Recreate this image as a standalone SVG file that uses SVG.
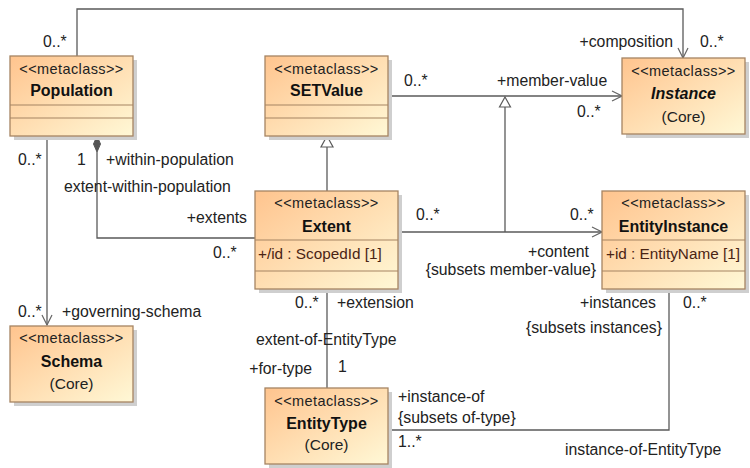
<svg xmlns="http://www.w3.org/2000/svg" width="750" height="468" viewBox="0 0 750 468">
<defs>
<linearGradient id="fill" x1="0" y1="0" x2="1" y2="1">
<stop offset="0" stop-color="#FFC48E"/>
<stop offset="1" stop-color="#FFF8D6"/>
</linearGradient>
<marker id="open" viewBox="0 0 12 12" refX="11" refY="6" markerWidth="12" markerHeight="12" markerUnits="userSpaceOnUse" orient="auto">
<path d="M1,1 L11,6 L1,11" fill="none" stroke="#666" stroke-width="1.2"/>
</marker>
</defs>
<style>
.box{fill:url(#fill);stroke:#A68463;stroke-width:1.3}
.shadow{fill:#CFCFCF}
.div{stroke:#A68463;stroke-width:1.2}
.st{font-family:"Liberation Sans",Arial,sans-serif;font-size:14.5px;letter-spacing:0.4px;fill:#222;text-anchor:middle}
.nm{font-family:"Liberation Sans",Arial,sans-serif;font-size:16px;font-weight:bold;fill:#111;text-anchor:middle}
.core{font-family:"Liberation Sans",Arial,sans-serif;font-size:15.5px;fill:#222;text-anchor:middle}
.attr{font-family:"Liberation Sans",Arial,sans-serif;font-size:15.3px;fill:#4A2414}
.lb{font-family:"Liberation Sans",Arial,sans-serif;font-size:15.8px;fill:#222}
.r{text-anchor:end}
.ln{fill:none;stroke:#5A5A5A;stroke-width:1.3}
</style>

<g id="connectors">
<polyline class="ln" points="77,56 77,9 683,9 683,58" marker-end="url(#open)"/>
<line class="ln" x1="388" y1="96" x2="622" y2="96" marker-end="url(#open)"/>
<line class="ln" x1="47" y1="136" x2="47" y2="325" marker-end="url(#open)"/>
<polyline class="ln" points="97,152 97,238 255,238"/>
<path d="M97,136 L100.5,144 L97,152 L93.5,144 Z" fill="#555" stroke="#555" stroke-width="1"/>
<line class="ln" x1="327" y1="147" x2="327" y2="191"/>
<path d="M327,136 L333,147 L321,147 Z" fill="#fff" stroke="#5A5A5A" stroke-width="1.2"/>
<line class="ln" x1="398" y1="232" x2="602" y2="232" marker-end="url(#open)"/>
<line class="ln" x1="505" y1="107" x2="505" y2="232"/>
<path d="M505,97 L510.5,107 L499.5,107 Z" fill="#fff" stroke="#5A5A5A" stroke-width="1.2"/>
<line class="ln" x1="327" y1="289" x2="327" y2="388"/>
<polyline class="ln" points="388,430 669,430 669,289"/>

<text class="lb" x="43" y="47">0..*</text>
<text class="lb r" x="673" y="47">+composition</text>
<text class="lb" x="700" y="47">0..*</text>
<text class="lb" x="404" y="86">0..*</text>
<text class="lb" x="497" y="86">+member-value</text>
<text class="lb" x="577" y="117">0..*</text>
<text class="lb" x="18" y="165">0..*</text>
<text class="lb" x="77" y="165">1</text>
<text class="lb" x="106" y="165">+within-population</text>
<text class="lb" x="64" y="192">extent-within-population</text>
<text class="lb r" x="247" y="223">+extents</text>
<text class="lb" x="213" y="258">0..*</text>
<text class="lb" x="416" y="220">0..*</text>
<text class="lb" x="570" y="220">0..*</text>
<text class="lb r" x="589" y="257">+content</text>
<text class="lb r" x="596" y="275">{subsets member-value}</text>
<text class="lb" x="18" y="317">0..*</text>
<text class="lb" x="62" y="317">+governing-schema</text>
<text class="lb" x="295" y="308">0..*</text>
<text class="lb" x="337" y="308">+extension</text>
<text class="lb" x="256" y="345">extent-of-EntityType</text>
<text class="lb r" x="312" y="374">+for-type</text>
<text class="lb" x="338" y="372">1</text>
<text class="lb r" x="656" y="308">+instances</text>
<text class="lb" x="683" y="308">0..*</text>
<text class="lb r" x="662" y="333">{subsets instances}</text>
<text class="lb" x="398" y="402">+instance-of</text>
<text class="lb" x="398" y="423">{subsets of-type}</text>
<text class="lb" x="398" y="447">1..*</text>
<text class="lb" x="565" y="455">instance-of-EntityType</text>
</g>

<g id="Population">
<rect class="shadow" x="14" y="60" width="123" height="80"/>
<rect class="box" x="10" y="56" width="123" height="80"/>
<line class="div" x1="10" y1="105" x2="133" y2="105"/>
<line class="div" x1="10" y1="118" x2="133" y2="118"/>
<text class="st" x="71.5" y="74">&lt;&lt;metaclass&gt;&gt;</text>
<text class="nm" x="71.5" y="96">Population</text>
</g>

<g id="SETValue">
<rect class="shadow" x="269" y="60" width="123" height="80"/>
<rect class="box" x="265" y="56" width="123" height="80"/>
<line class="div" x1="265" y1="105" x2="388" y2="105"/>
<line class="div" x1="265" y1="118" x2="388" y2="118"/>
<text class="st" x="326.5" y="74">&lt;&lt;metaclass&gt;&gt;</text>
<text class="nm" x="326.5" y="96">SETValue</text>
</g>

<g id="Instance">
<rect class="shadow" x="626" y="62" width="123" height="76"/>
<rect class="box" x="622" y="58" width="123" height="76"/>
<text class="st" x="683.5" y="76">&lt;&lt;metaclass&gt;&gt;</text>
<text class="nm" x="683.5" y="99" font-style="italic">Instance</text>
<text class="core" x="683.5" y="122">(Core)</text>
</g>

<g id="Extent">
<rect class="shadow" x="259" y="195" width="143" height="98"/>
<rect class="box" x="255" y="191" width="143" height="98"/>
<line class="div" x1="255" y1="240" x2="398" y2="240"/>
<line class="div" x1="255" y1="271" x2="398" y2="271"/>
<text class="st" x="326.5" y="208">&lt;&lt;metaclass&gt;&gt;</text>
<text class="nm" x="326.5" y="232">Extent</text>
<text class="attr" x="258" y="259">+/id : ScopedId [1]</text>
</g>

<g id="EntityInstance">
<rect class="shadow" x="606" y="195" width="143" height="98"/>
<rect class="box" x="602" y="191" width="143" height="98"/>
<line class="div" x1="602" y1="240" x2="745" y2="240"/>
<line class="div" x1="602" y1="271" x2="745" y2="271"/>
<text class="st" x="673.5" y="208">&lt;&lt;metaclass&gt;&gt;</text>
<text class="nm" x="673.5" y="232">EntityInstance</text>
<text class="attr" x="606" y="259">+id : EntityName [1]</text>
</g>

<g id="Schema">
<rect class="shadow" x="14" y="330" width="123" height="76"/>
<rect class="box" x="10" y="326" width="123" height="76"/>
<text class="st" x="71.5" y="343">&lt;&lt;metaclass&gt;&gt;</text>
<text class="nm" x="71.5" y="367">Schema</text>
<text class="core" x="71.5" y="389">(Core)</text>
</g>

<g id="EntityType">
<rect class="shadow" x="269" y="392" width="123" height="76"/>
<rect class="box" x="265" y="388" width="123" height="76"/>
<text class="st" x="326.5" y="406">&lt;&lt;metaclass&gt;&gt;</text>
<text class="nm" x="326.5" y="429">EntityType</text>
<text class="core" x="326.5" y="450">(Core)</text>
</g>
</svg>
